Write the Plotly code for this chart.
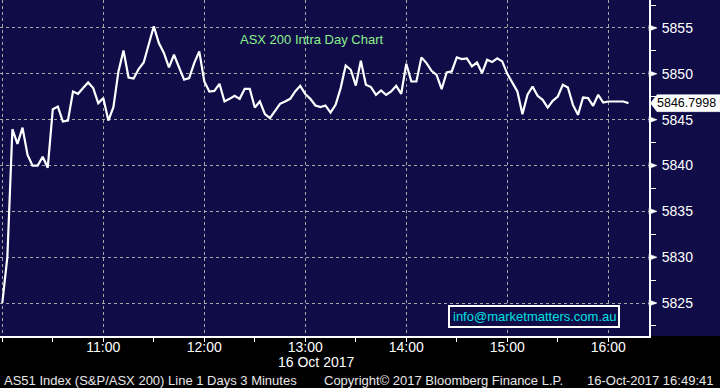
import plotly.graph_objects as go
import pandas as pd

# ---- data ----
start_time = "2017-10-16 10:00:00"
interval_minutes = 3
prices = [
    5825.0, 5830.0, 5843.96, 5842.35, 5844.13, 5841.15, 5839.98, 5839.98, 5840.96, 5839.76,
    5846.14, 5846.43, 5844.79, 5844.90, 5848.07, 5847.82, 5848.44, 5849.05, 5848.44, 5846.80,
    5847.35, 5844.90, 5846.36, 5850.26, 5852.55, 5849.60, 5849.49, 5850.52, 5851.24, 5853.36,
    5855.18, 5853.36, 5852.27, 5850.70, 5852.08, 5850.70, 5849.35, 5849.53, 5851.17, 5852.44,
    5849.16, 5848.07, 5848.14, 5848.91, 5846.98, 5847.27, 5847.60, 5847.27, 5848.36, 5848.36,
    5846.32, 5846.98, 5845.60, 5845.16, 5845.88, 5846.72, 5846.98, 5847.27, 5848.07, 5848.69,
    5847.78, 5847.27, 5846.54, 5846.36, 5846.54, 5845.77, 5846.61, 5848.44, 5850.91, 5850.44,
    5848.72, 5851.43, 5848.80, 5848.55, 5847.71, 5848.18, 5847.71, 5848.07, 5848.69, 5847.82,
    5851.10, 5849.16, 5849.16, 5851.79, 5851.17, 5850.33, 5849.89, 5848.33, 5850.15, 5850.26,
    5851.79, 5851.61, 5851.68, 5850.81, 5851.24, 5850.08, 5851.53, 5851.28, 5851.68, 5851.35,
    5850.00, 5849.00, 5848.07, 5845.60, 5847.71, 5848.62, 5847.60, 5847.16, 5846.32, 5847.05,
    5847.52, 5848.80, 5848.51, 5846.61, 5845.52, 5847.41, 5847.35, 5846.51, 5847.71, 5846.87,
    5846.98, 5846.98, 5846.98, 5846.98, 5846.7998,
]
last_price_label = "5846.7998"
x_tick_vals = ["2017-10-16 10:00", "2017-10-16 11:00", "2017-10-16 12:00", "2017-10-16 13:00",
               "2017-10-16 14:00", "2017-10-16 15:00", "2017-10-16 16:00"]
x_tick_text = ["", "11:00", "12:00", "13:00", "14:00", "15:00", "16:00"]
y_tick_vals = [5825, 5830, 5835, 5840, 5845, 5850, 5855]
date_label = "16 Oct 2017"
title_text = "ASX 200 Intra Day Chart"
info_text = "info@marketmatters.com.au"
footer_left = "AS51 Index (S&P/ASX 200) Line 1 Days 3 Minutes"
footer_mid = "Copyright\u00a9 2017 Bloomberg Finance L.P."
footer_right = "16-Oct-2017 16:49:41"

times = pd.date_range(start_time, periods=len(prices), freq=f"{interval_minutes}min")

NAVY = "#0f0c47"
GRID = "#a8a8a8"
FONT = "Liberation Sans"

fig = go.Figure()
fig.add_trace(go.Scatter(x=times, y=prices, mode="lines",
                         line=dict(color="white", width=2.2), hoverinfo="skip",
                         showlegend=False))

W_PLOT = 649.0
H_PLOT = 336.0
y_lo, y_hi = 5821.4, 5858.05
upp = (y_hi - y_lo) / H_PLOT  # data units per pixel

fig.update_layout(
    width=720, height=388,
    margin=dict(l=0, r=720 - W_PLOT, t=0, b=388 - H_PLOT),
    paper_bgcolor="black",
    plot_bgcolor=NAVY,
    font=dict(family=FONT, color="white", size=14),
    xaxis=dict(
        type="date",
        range=["2017-10-16 09:58:38", "2017-10-16 16:24:11"],
        tickvals=x_tick_vals, ticktext=x_tick_text,
        showgrid=True, gridcolor=GRID, griddash="dot", gridwidth=1,
        showline=True, linecolor="white", linewidth=2,
        ticks="outside", ticklen=4, tickcolor="white", tickwidth=1,
        ticklabelstandoff=-7,
        minor=dict(dtick=30 * 60 * 1000, ticks="outside", ticklen=4,
                   tickcolor="white", showgrid=False),
        tickfont=dict(family=FONT, size=14, color="white"),
        zeroline=False, fixedrange=True,
    ),
    yaxis=dict(
        side="right",
        range=[y_lo, y_hi],
        tickvals=y_tick_vals,
        showgrid=True, gridcolor=GRID, griddash="dot", gridwidth=1,
        showline=True, linecolor="white", linewidth=2,
        ticks="outside", ticklen=8, tickcolor="rgba(0,0,0,0)",
        minor=dict(dtick=2.5, tick0=5822.5, ticks="outside", ticklen=5,
                   tickcolor="white", showgrid=False),
        tickfont=dict(family=FONT, size=14, color="white"),
        zeroline=False, fixedrange=True,
    ),
)

shapes = []
# navy background behind right-axis labels
shapes.append(dict(type="rect", xref="paper", yref="paper", x0=1.0, x1=720 / W_PLOT,
                   y0=0, y1=1, fillcolor=NAVY, line=dict(width=0), layer="below"))
# triangle tick markers on the y axis
px = 1.0 / W_PLOT
for v in y_tick_vals:
    shapes.append(dict(type="path", xref="paper", yref="y",
                       path=f"M 1,{v - 3 * upp} L {1 + 8 * px},{v} L 1,{v + 3 * upp} Z",
                       fillcolor="white", line=dict(color="white", width=0.5)))
# last-price label box
lp = prices[-1]
hh = 8.5 * upp
x_tip = 1 + 1.5 * px
x_box = 1 + 8 * px
x_end = 720 / W_PLOT
shapes.append(dict(type="path", xref="paper", yref="y",
                   path=(f"M {x_tip},{lp} L {x_box},{lp + hh} L {x_end},{lp + hh} "
                         f"L {x_end},{lp - hh} L {x_box},{lp - hh} Z"),
                   fillcolor="white", line=dict(color="white", width=0.5)))
# info box
shapes.append(dict(type="rect", xref="paper", yref="paper",
                   x0=449 / W_PLOT, x1=619 / W_PLOT,
                   y0=(H_PLOT - 327) / H_PLOT, y1=(H_PLOT - 306) / H_PLOT,
                   fillcolor=NAVY, line=dict(color="white", width=2)))
fig.update_layout(shapes=shapes)

ann = []
ann.append(dict(text=last_price_label, xref="paper", yref="y", x=1 + 6 * px, y=lp,
                xanchor="left", yanchor="middle", showarrow=False,
                font=dict(family=FONT, size=12.5, color="black")))
ann.append(dict(text=title_text, xref="paper", yref="paper", x=311 / W_PLOT,
                y=(H_PLOT - 39) / H_PLOT, xanchor="center", yanchor="middle",
                showarrow=False, font=dict(family=FONT, size=13, color="#8cf08c")))
ann.append(dict(text=info_text, xref="paper", yref="paper", x=534 / W_PLOT,
                y=(H_PLOT - 316.5) / H_PLOT, xanchor="center", yanchor="middle",
                showarrow=False, font=dict(family=FONT, size=13, color="#00e0e0")))
ann.append(dict(text=date_label, xref="paper", yref="paper", x=316 / W_PLOT,
                y=(H_PLOT - 362) / H_PLOT, xanchor="center", yanchor="middle",
                showarrow=False, font=dict(family=FONT, size=14, color="white")))
ann.append(dict(text=footer_left, xref="paper", yref="paper", x=2 / W_PLOT,
                y=(H_PLOT - 380) / H_PLOT, xanchor="left", yanchor="middle",
                showarrow=False, font=dict(family=FONT, size=13, color="#e8e8e8")))
ann.append(dict(text=footer_mid, xref="paper", yref="paper", x=322 / W_PLOT,
                y=(H_PLOT - 380) / H_PLOT, xanchor="left", yanchor="middle",
                showarrow=False, font=dict(family=FONT, size=13, color="#e8e8e8")))
ann.append(dict(text=footer_right, xref="paper", yref="paper", x=715 / W_PLOT,
                y=(H_PLOT - 380) / H_PLOT, xanchor="right", yanchor="middle",
                showarrow=False, font=dict(family=FONT, size=13, color="#e8e8e8")))
fig.update_layout(annotations=ann)

fig.write_html("out.html", config={"displayModeBar": False})
